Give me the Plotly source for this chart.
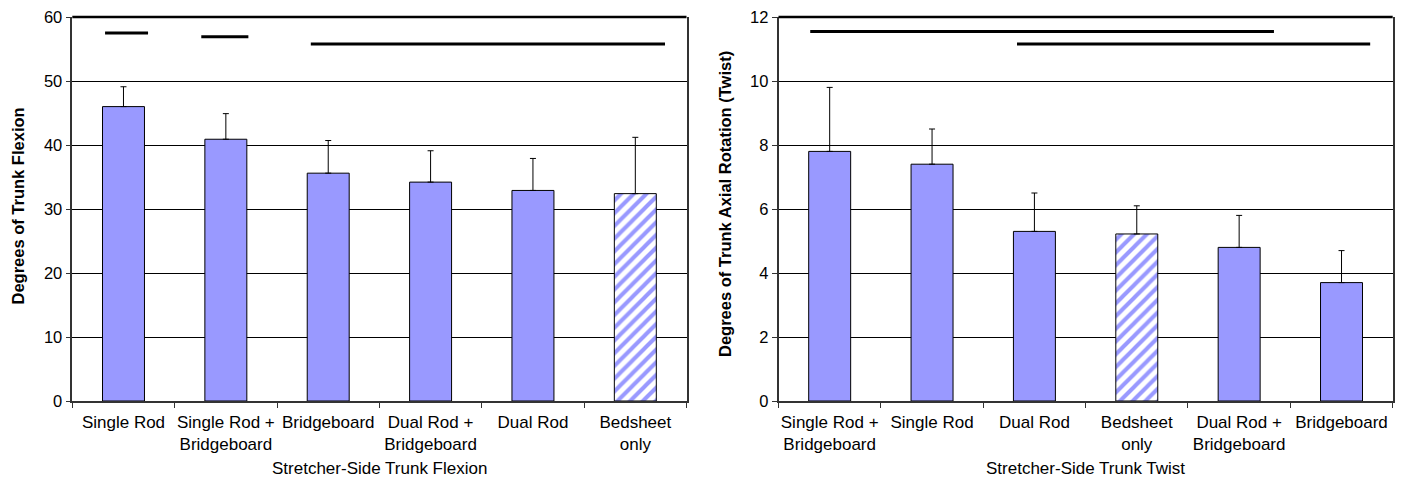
import plotly.graph_objects as go

# ---------------- data ----------------
flex_categories = ["Single Rod", "Single Rod +<br>Bridgeboard", "Bridgeboard",
                   "Dual Rod +<br>Bridgeboard", "Dual Rod", "Bedsheet<br>only"]
flex_means = [46.0, 40.9, 35.6, 34.2, 32.9, 32.4]
flex_sd = [3.1, 4.0, 5.1, 4.9, 5.0, 8.8]
flex_hatched = [False, False, False, False, False, True]
# significance group lines: (start category pos, end category pos, y value)
flex_sig_start = [-0.18, 0.76, 1.83]
flex_sig_end = [0.24, 1.22, 5.29]
flex_sig_y = [57.5, 56.9, 55.8]

twist_categories = ["Single Rod +<br>Bridgeboard", "Single Rod", "Dual Rod",
                    "Bedsheet<br>only", "Dual Rod +<br>Bridgeboard", "Bridgeboard"]
twist_means = [7.8, 7.4, 5.3, 5.22, 4.8, 3.7]
twist_sd = [2.0, 1.1, 1.2, 0.88, 1.0, 1.0]
twist_hatched = [False, False, False, True, False, False]
twist_sig_start = [-0.19, 1.83]
twist_sig_end = [4.34, 5.28]
twist_sig_y = [11.55, 11.16]

flex_ytitle = "Degrees of Trunk Flexion"
twist_ytitle = "Degrees of Trunk Axial Rotation (Twist)"
flex_xtitle = "Stretcher-Side Trunk Flexion"
twist_xtitle = "Stretcher-Side Trunk Twist"

# ---------------- style ----------------
BAR = "#9999FF"
FONT = "Liberation Sans, Arial, sans-serif"
W, H = 1408, 480
T, B = 17, 79
plot_h = H - T - B
left_dom = [72.3 / W, 686.5 / W]
right_dom = [778.5 / W, 1392.7 / W]

fig = go.Figure()


def add_bars(cats, means, sd, hatched, xa, ya):
    for want_hatch in (False, True):
        idx = [i for i, h in enumerate(hatched) if h == want_hatch]
        if not idx:
            continue
        if want_hatch:
            marker = dict(color=BAR, line=dict(color="black", width=1),
                          pattern=dict(shape="/", fillmode="replace", fgcolor=BAR,
                                       bgcolor="white", size=9, solidity=0.45))
        else:
            marker = dict(color=BAR, line=dict(color="black", width=1))
        fig.add_trace(go.Bar(
            x=[cats[i] for i in idx], y=[means[i] for i in idx],
            xaxis=xa, yaxis=ya, width=0.41, marker=marker,
            error_y=dict(type="data", array=[sd[i] for i in idx],
                         arrayminus=[0] * len(idx), symmetric=False,
                         color="black", thickness=1, width=3),
            showlegend=False, hoverinfo="skip",
        ))


add_bars(flex_categories, flex_means, flex_sd, flex_hatched, "x", "y")
add_bars(twist_categories, twist_means, twist_sd, twist_hatched, "x2", "y2")

shapes = []
for s, e, yv in zip(flex_sig_start, flex_sig_end, flex_sig_y):
    shapes.append(dict(type="line", xref="x", yref="y", x0=s, x1=e, y0=yv, y1=yv,
                       line=dict(color="black", width=3)))
for s, e, yv in zip(twist_sig_start, twist_sig_end, twist_sig_y):
    shapes.append(dict(type="line", xref="x2", yref="y2", x0=s, x1=e, y0=yv, y1=yv,
                       line=dict(color="black", width=3)))
# thick top border of each plot
shapes.append(dict(type="line", xref="x domain", yref="y domain", x0=0, x1=1, y0=1, y1=1,
                   line=dict(color="black", width=2.5)))
shapes.append(dict(type="line", xref="x2 domain", yref="y2 domain", x0=0, x1=1, y0=1, y1=1,
                   line=dict(color="black", width=2.5)))

xcommon = dict(type="category", tickson="boundaries", ticks="outside", ticklen=5,
               tickcolor="#333", tickwidth=1, showline=True, linecolor="#333", linewidth=1.5,
               mirror=False, showgrid=False, range=[-0.5, 5.5], tickangle=0,
               ticklabelstandoff=5,
               tickfont=dict(family=FONT, size=17, color="black"))
ycommon = dict(ticks="outside", ticklen=5, tickcolor="#333", tickwidth=1,
               showline=True, linecolor="#333", linewidth=1.5, mirror=True,
               showgrid=True, gridcolor="black", gridwidth=1, zeroline=False,
               tickfont=dict(family=FONT, size=16.5, color="black"))

fig.update_layout(
    width=W, height=H,
    margin=dict(l=0, r=0, t=T, b=B, pad=0),
    paper_bgcolor="white", plot_bgcolor="white",
    barmode="overlay",
    font=dict(family=FONT, color="black"),
    xaxis=dict(domain=left_dom, anchor="y", categoryorder="array",
               categoryarray=flex_categories, **xcommon),
    yaxis=dict(domain=[0, 1], anchor="x", range=[0, 60], dtick=10, **ycommon),
    xaxis2=dict(domain=right_dom, anchor="y2", categoryorder="array",
                categoryarray=twist_categories, **xcommon),
    yaxis2=dict(domain=[0, 1], anchor="x2", range=[0, 12], dtick=2, **ycommon),
    shapes=shapes,
    annotations=[
        dict(text="<b>%s</b>" % flex_ytitle, xref="paper", yref="paper",
             x=17.5 / W, y=(401 - 206) / plot_h, textangle=-90, showarrow=False,
             xanchor="center", yanchor="middle", font=dict(family=FONT, size=16.5)),
        dict(text="<b>%s</b>" % twist_ytitle, xref="paper", yref="paper",
             x=725 / W, y=(401 - 204) / plot_h, textangle=-90, showarrow=False,
             xanchor="center", yanchor="middle", font=dict(family=FONT, size=16.5)),
        dict(text=flex_xtitle, xref="paper", yref="paper",
             x=(left_dom[0] + left_dom[1]) / 2, y=-(468 - 401) / plot_h,
             showarrow=False, xanchor="center", yanchor="middle",
             font=dict(family=FONT, size=17)),
        dict(text=twist_xtitle, xref="paper", yref="paper",
             x=(right_dom[0] + right_dom[1]) / 2, y=-(468 - 401) / plot_h,
             showarrow=False, xanchor="center", yanchor="middle",
             font=dict(family=FONT, size=17)),
    ],
)

fig.write_html("out.html")
